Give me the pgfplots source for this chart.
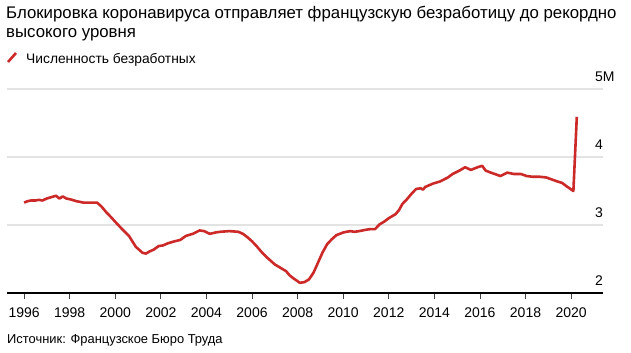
\documentclass[border=0pt]{standalone}
\usepackage{pgfplots}
\pgfplotsset{compat=1.18}
\usepackage{fontspec}
\setmainfont{Liberation Sans}
\definecolor{lred}{HTML}{CC2929}
\definecolor{gridg}{HTML}{E3E3E3}
\begin{document}
\begin{tikzpicture}[x=1bp,y=1bp]
\path[use as bounding box] (0,0) rectangle (631,352);
\begin{axis}[
  at={(7bp,59bp)}, anchor=south west,
  scale only axis, width=596bp, height=204bp,
  xmin=1995.25, xmax=2021.4, ymin=2, ymax=5,
  axis x line*=bottom, axis y line*=right,
  y axis line style={draw=none},
  x axis line style={black, line width=1.1bp},
  xtick={1996,1998,...,2020},
  xticklabels={1996,1998,2000,2002,2004,2006,2008,2010,2012,2014,2016,2018,2020},
  xtick align=outside,
  major tick length=6bp,
  xtick style={black!75, line width=0.8bp},
  ytick={2,3,4,5},
  yticklabels={2,3,4,5\rlap{M}},
  ytick style={draw=none},
  ymajorgrids,
  major grid style={draw=gridg, line width=1.6bp},
  xticklabel style={font=\fontsize{14bp}{16bp}\selectfont, anchor=north, inner sep=0pt, yshift=-9bp},
  yticklabel style={font=\fontsize{14bp}{16bp}\selectfont, anchor=south east, inner sep=0pt, xshift=0bp, yshift=7bp},
  clip=false,
]
\addplot[lred, line width=2.6bp, line join=round] coordinates {
(1996.0,3.33) (1996.15,3.35) (1996.3,3.36) (1996.5,3.36) (1996.65,3.37) (1996.8,3.36)
(1997.0,3.39) (1997.2,3.41) (1997.4,3.43) (1997.55,3.39) (1997.7,3.42) (1997.85,3.39)
(1998.0,3.38) (1998.3,3.35) (1998.6,3.33) (1998.9,3.33) (1999.2,3.33) (1999.4,3.27)
(1999.6,3.19) (1999.8,3.12) (2000.1,3.01) (2000.3,2.94) (2000.6,2.84) (2000.9,2.68)
(2001.2,2.59) (2001.35,2.58) (2001.5,2.61) (2001.7,2.64) (2001.9,2.69) (2002.1,2.70)
(2002.3,2.73) (2002.6,2.76) (2002.85,2.78) (2003.1,2.84) (2003.4,2.87) (2003.7,2.92)
(2003.9,2.91) (2004.15,2.87) (2004.4,2.89) (2004.6,2.90) (2005.0,2.91) (2005.4,2.90)
(2005.6,2.87) (2005.8,2.82) (2006.0,2.76) (2006.2,2.69) (2006.4,2.61) (2006.6,2.54)
(2006.8,2.48) (2007.0,2.42) (2007.25,2.37) (2007.5,2.32) (2007.65,2.26) (2007.8,2.22)
(2008.1,2.15) (2008.3,2.16) (2008.5,2.20) (2008.7,2.30) (2008.9,2.45) (2009.1,2.60)
(2009.3,2.72) (2009.5,2.79) (2009.7,2.85) (2010.0,2.89) (2010.3,2.91) (2010.5,2.90)
(2010.7,2.91) (2011.0,2.93) (2011.2,2.94) (2011.4,2.94) (2011.6,3.01) (2011.8,3.05)
(2012.0,3.10) (2012.3,3.16) (2012.45,3.22) (2012.6,3.31) (2012.8,3.38) (2013.0,3.46)
(2013.2,3.53) (2013.4,3.54) (2013.5,3.52) (2013.6,3.56) (2013.95,3.61) (2014.25,3.64)
(2014.6,3.70) (2014.8,3.75) (2015.1,3.80) (2015.35,3.85) (2015.6,3.81) (2015.9,3.85)
(2016.1,3.87) (2016.25,3.80) (2016.4,3.78) (2016.65,3.75) (2016.9,3.72) (2017.2,3.77)
(2017.5,3.75) (2017.8,3.75) (2018.05,3.72) (2018.3,3.71) (2018.6,3.71) (2018.9,3.70)
(2019.15,3.67) (2019.4,3.64) (2019.6,3.62) (2019.8,3.57) (2020.1,3.50) (2020.25,4.59)
};
\end{axis}
\node[anchor=base west, inner sep=0pt, font=\fontsize{16.8bp}{19bp}\selectfont] at (6,334) {Блокировка коронавируса отправляет французскую безработицу до рекордно};
\node[anchor=base west, inner sep=0pt, font=\fontsize{16.8bp}{19bp}\selectfont] at (6,315) {высокого уровня};
\draw[lred, line width=2.6bp] (8,290) -- (16,299);
\node[anchor=base west, inner sep=0pt, font=\fontsize{13.8bp}{15bp}\selectfont] at (26,289) {Численность безработных};
\node[anchor=base west, inner sep=0pt, font=\fontsize{12.9bp}{15bp}\selectfont] at (7,9) {Источник: Французское Бюро Труда};
\end{tikzpicture}
\end{document}
